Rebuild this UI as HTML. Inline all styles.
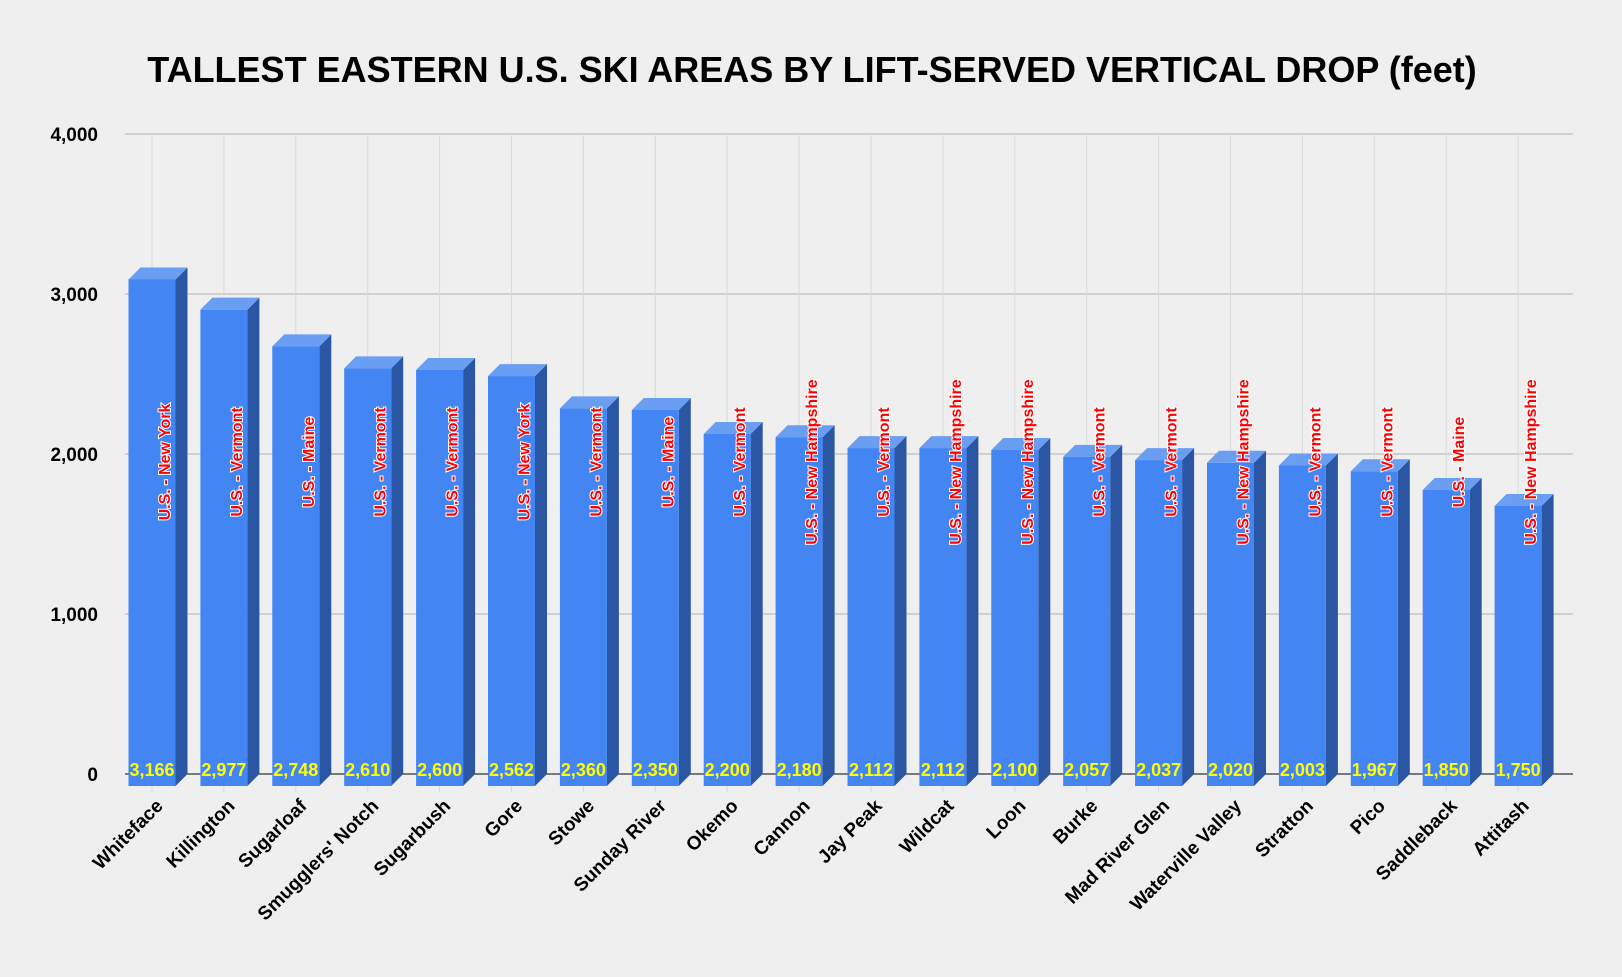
<!DOCTYPE html>
<html><head><meta charset="utf-8">
<style>
html,body{margin:0;padding:0;background:#efefef;}
svg{display:block;font-family:"Liberation Sans",Arial,sans-serif;}
</style></head>
<body>
<svg id="chart" width="1622" height="977" viewBox="0 0 1622 977">
<rect width="1622" height="977" fill="#efefef"/>
<text x="812" y="82" text-anchor="middle" font-size="36" font-weight="bold" fill="#000">TALLEST EASTERN U.S. SKI AREAS BY LIFT-SERVED VERTICAL DROP (feet)</text>
<g id="grid"></g>
<g id="bars"></g>
<g id="labels"></g>
</svg>
<script>
const categories = ["Whiteface","Killington","Sugarloaf","Smugglers' Notch","Sugarbush","Gore","Stowe","Sunday River","Okemo","Cannon","Jay Peak","Wildcat","Loon","Burke","Mad River Glen","Waterville Valley","Stratton","Pico","Saddleback","Attitash"];
const values = [3166,2977,2748,2610,2600,2562,2360,2350,2200,2180,2112,2112,2100,2057,2037,2020,2003,1967,1850,1750];
const states = ["New York","Vermont","Maine","Vermont","Vermont","New York","Vermont","Maine","Vermont","New Hampshire","Vermont","New Hampshire","New Hampshire","Vermont","Vermont","New Hampshire","Vermont","Vermont","Maine","New Hampshire"];
const yTicks = [0,1000,2000,3000,4000];
const yTickLabels = ["0","1,000","2,000","3,000","4,000"];

const NS="http://www.w3.org/2000/svg";
const X0=125, X1=1573, Y0=774, YMAX=4000, PH=640;
const step=71.9, first=152, bw=47, d=12;
function y(v){return Y0 - v/YMAX*PH;}
function cx(i){return first + step*i;}
function mk(tag,attrs,parent){const e=document.createElementNS(NS,tag);for(const k in attrs)e.setAttribute(k,attrs[k]);parent.appendChild(e);return e;}
const grid=document.getElementById('grid'), bars=document.getElementById('bars'), labels=document.getElementById('labels');

yTicks.forEach((t,i)=>{
  if(t>0){
    const l=mk('line',{x1:X0,x2:X1,y1:y(t),y2:y(t),stroke:'#bdbdbd','stroke-width':1.3},grid);
    
    
  }
  const tx=mk('text',{x:98,y:y(t)+7,'text-anchor':'end','font-size':19,'font-weight':'bold',fill:'#000'},grid);
  tx.textContent=yTickLabels[i];
  
  
});
categories.forEach((c,i)=>{
  const l=mk('line',{x1:cx(i),x2:cx(i),y1:y(4000),y2:Y0+18,stroke:'#d9d9d9','stroke-width':1},grid);
  
  
});
const zl=mk('line',{x1:X0,x2:X1,y1:Y0,y2:Y0,stroke:'#333','stroke-width':1.3},grid);



values.forEach((v,i)=>{
  const left=cx(i)-bw/2, right=left+bw, top=y(v)+d, bot=Y0+d;
  const g=mk('g',{},bars);
  
  
  mk('polygon',{points:`${right},${top} ${right+d},${top-d} ${right+d},${bot-d} ${right},${bot}`,fill:'#2b56a3'},g);
  mk('polygon',{points:`${left},${top} ${left+d},${top-d} ${right+d},${top-d} ${right},${top}`,fill:'#699ef3'},g);
  mk('rect',{x:left,y:top,width:bw,height:bot-top,fill:'#4485f4'},g);
  const vt=mk('text',{x:cx(i),y:Y0+2,'text-anchor':'middle','font-size':18,'font-weight':'bold',fill:'#ffff00',stroke:'#4485f4','stroke-width':2,'paint-order':'stroke'},labels);
  vt.textContent=v.toLocaleString('en-US');
  
  
  const sx=cx(i)+18, sy=462;
  const st=mk('text',{x:sx,y:sy,'text-anchor':'middle','font-size':16,'font-weight':'bold',fill:'#ff0000',stroke:'#ffffff','stroke-width':2,'paint-order':'stroke',transform:`rotate(-90 ${sx} ${sy})`},labels);
  st.textContent='U.S. - '+states[i];
  
  
  const lx=cx(i)+12, ly=807;
  const ct=mk('text',{x:lx,y:ly,'text-anchor':'end','font-size':19,'font-weight':'bold',fill:'#000',transform:`rotate(-45 ${lx} ${ly})`},labels);
  ct.textContent=categories[i];
  
  
});
</script>
</body></html>
